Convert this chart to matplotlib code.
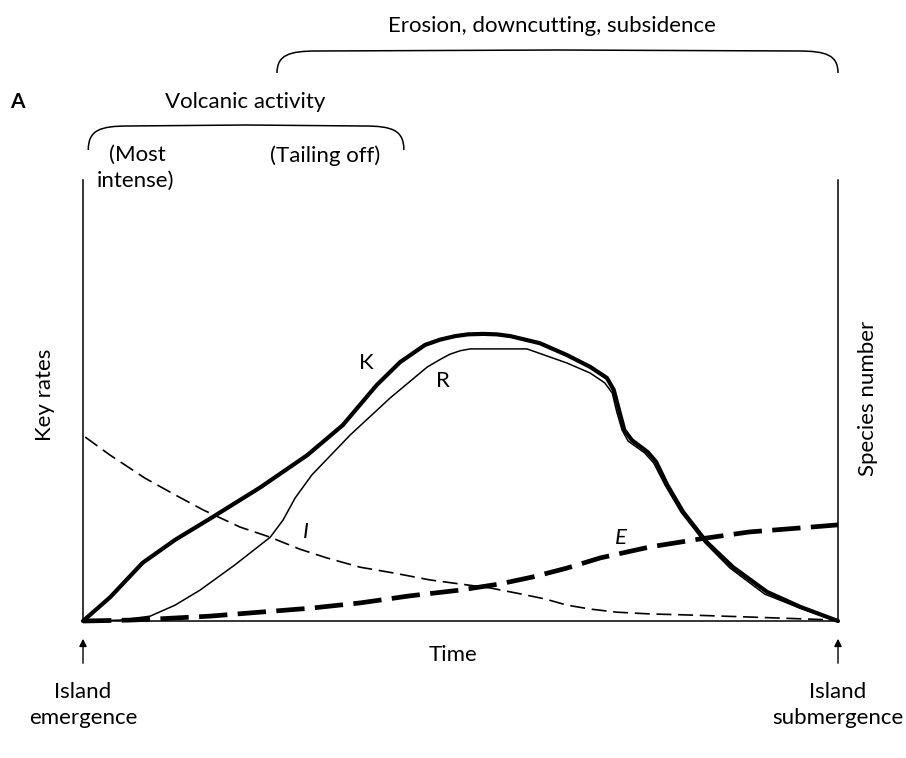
import matplotlib
matplotlib.use("Agg")
import matplotlib.pyplot as plt
from matplotlib.path import Path
from matplotlib.patches import PathPatch, FancyArrowPatch
from matplotlib.transforms import Affine2D

plt.rcParams['font.family'] = ['Lato', 'DejaVu Sans']

# time axis runs 0..100 (emergence -> submergence), rates 0..100 (arbitrary)
k_time = [0, 3.6, 7.9, 12.2, 17.2, 23.4, 29.7, 34.4, 38.9, 42.0, 45.3, 47.3, 49.3, 51.0,
          53.0, 54.8, 56.6, 60.5, 64.1, 67.2, 69.4, 70.3, 71.0, 71.7, 72.7, 74.8, 75.9,
          77.4, 79.5, 82.6, 86.1, 90.6, 95.0, 100]
k_vals = [0, 5.4, 13.2, 18.4, 23.6, 30.2, 37.6, 44.4, 53.5, 58.7, 62.6, 63.8, 64.6, 65.0,
          65.1, 65.0, 64.6, 63.0, 60.3, 57.6, 55.1, 52.4, 47.8, 43.3, 41.0, 38.3, 36.1,
          30.8, 24.7, 17.9, 12.2, 6.6, 3.2, 0]

r_time = [0, 4.9, 8.9, 12.2, 15.5, 20.1, 24.8, 26.5, 28.1, 30.3, 35.4, 40.7, 45.6, 47.3,
          48.6, 50.0, 51.3, 58.8, 64.1, 67.2, 69.1, 70.1, 70.7, 71.4, 72.2, 74.4, 75.6,
          77.1, 79.2, 82.4, 85.7, 90.3, 95.0, 100]
r_vals = [0, 0.2, 1.1, 3.6, 7.0, 12.7, 19.0, 22.9, 27.9, 33.1, 42.2, 50.6, 57.6, 59.3,
          60.5, 61.3, 61.7, 61.7, 58.5, 56.2, 54.0, 51.7, 47.4, 43.3, 40.8, 38.1, 35.8,
          30.8, 24.7, 17.7, 12.0, 6.1, 2.9, 0]

i_time = [0.3, 3.6, 8.2, 12.2, 15.9, 20.8, 24.8, 28.7, 32.3, 36.7, 41.1, 46.0, 49.9, 53.9,
          57.5, 61.2, 64.1, 67.2, 70.7, 75.1, 79.5, 88.3, 95.0, 99.9]
i_vals = [41.7, 37.6, 32.4, 28.6, 25.2, 21.3, 19.0, 16.3, 14.3, 12.2, 10.9, 9.3, 8.4, 7.5,
          6.3, 5.0, 3.6, 2.7, 2.0, 1.6, 1.4, 0.9, 0.5, 0.2]

e_time = [0, 6.2, 10.2, 16.8, 23.4, 30.1, 36.7, 43.3, 49.9, 55.2, 59.6, 64.1, 68.5, 75.1,
          81.7, 88.3, 95.0, 100]
e_vals = [0, 0.2, 0.5, 1.1, 2.0, 2.9, 4.1, 5.7, 7.0, 8.4, 10.0, 12.0, 14.3, 16.8,
          18.6, 20.2, 21.1, 21.8]

# phases shown as braces above the plot (time spans)
volcanic_span = (0.7, 42.5)
erosion_span = (25.7, 100)

FS = 16
W, H = 906, 758
fig = plt.figure(figsize=(W / 100, H / 100), dpi=100)
ax = fig.add_axes([83 / W, 1 - 621 / H, 755 / W, 441 / H])
ax.set_xlim(0, 100)
ax.set_ylim(0, 100)
ax.spines['top'].set_visible(False)
for s in ['left', 'right', 'bottom']:
    ax.spines[s].set_linewidth(1.1)
ax.set_xticks([])
ax.set_yticks([])

ax.plot(k_time, k_vals, color='black', lw=3.0, solid_joinstyle='round',
        solid_capstyle='round', clip_on=False)
ax.plot(r_time, r_vals, color='black', lw=1.1, clip_on=False)
ax.plot(i_time, i_vals, color='black', lw=1.2, dashes=(9, 4), clip_on=False)
ax.plot(e_time, e_vals, color='black', lw=3.4, dashes=(6, 2.2), clip_on=False)

ax.text(37.5, 58.5, 'K', fontsize=FS, ha='center', va='center')
ax.text(47.7, 54.5, 'R', fontsize=FS, ha='center', va='center')
ax.text(29.5, 20.2, 'I', fontsize=FS, style='italic', ha='center', va='center')
ax.text(71.2, 18.8, 'E', fontsize=FS, style='italic', ha='center', va='center')

ax.text(49.0, -7.7, 'Time', fontsize=FS, ha='center', va='center', clip_on=False)


def fx(px):
    return px / W


def fy(py):
    return 1 - py / H


fig.text(fx(45), fy(395), 'Key rates', rotation=90, fontsize=FS, ha='center', va='center')
fig.text(fx(868), fy(398), 'Species number', rotation=90, fontsize=FS, ha='center', va='center')

fig.text(fx(17), fy(102), 'A', fontsize=FS - 1, weight='bold', ha='center', va='center')
fig.text(fx(245), fy(102), 'Volcanic activity', fontsize=FS, ha='center', va='center')
fig.text(fx(552), fy(26), 'Erosion, downcutting, subsidence', fontsize=FS, ha='center', va='center')
fig.text(fx(109), fy(155), '(Most', fontsize=FS, ha='left', va='center')
fig.text(fx(97), fy(181), 'intense)', fontsize=FS, ha='left', va='center')
fig.text(fx(325), fy(156), '(Tailing off)', fontsize=FS, ha='center', va='center')

for x, lab in [(83, 'Island\nemergence'), (838, 'Island\nsubmergence')]:
    fig.text(fx(x), fy(705), lab, fontsize=FS, ha='center', va='center', linespacing=1.35)
    fig.patches.append(FancyArrowPatch((fx(x), fy(666)), (fx(x), fy(636)),
                                       transform=fig.transFigure, arrowstyle='-|>',
                                       mutation_scale=11, lw=1.0, color='black'))


# braces: axes data x converted to pixels, pixel y from the top of the figure
def brace(span, top, drop):
    x0 = 83 + span[0] * 7.55
    x1 = 83 + span[1] * 7.55
    verts = [(x0, top + drop), (x0, top + 4), (x0 + 12, top), (x0 + 40, top),
             ((x0 + x1) / 2, top - 1),
             (x1 - 40, top), (x1 - 12, top), (x1, top + 4), (x1, top + drop)]
    codes = [Path.MOVETO, Path.CURVE4, Path.CURVE4, Path.CURVE4,
             Path.LINETO, Path.LINETO, Path.CURVE4, Path.CURVE4, Path.CURVE4]
    tr = Affine2D().scale(1 / W, -1 / H).translate(0, 1) + fig.transFigure
    fig.patches.append(PathPatch(Path(verts, codes), fill=False, lw=1.1,
                                 color='black', transform=tr))


brace(volcanic_span, 126, 24)
brace(erosion_span, 51, 22)

fig.savefig('out.png', dpi=100, facecolor='white')
